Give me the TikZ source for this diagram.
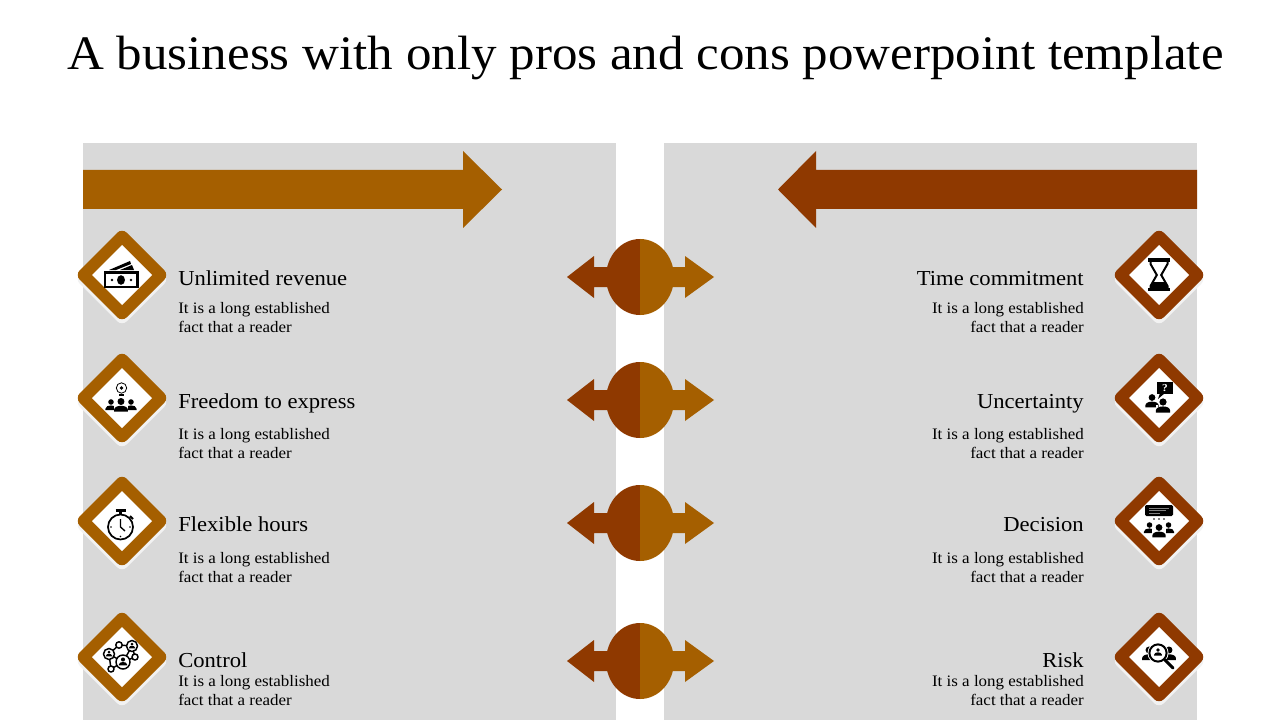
\documentclass[tikz,border=0pt]{standalone}
\usepackage{fontspec}
\setmainfont[FakeStretch=1.06]{Liberation Serif}
\definecolor{pro}{HTML}{A55F00}
\definecolor{con}{HTML}{8F3900}
\definecolor{panel}{HTML}{D9D9D9}
\definecolor{softedge}{HTML}{F2F2F2}
\newcommand{\psn}[3]{\begin{scope}[shift={(#1,#2)},scale=#3]
  \fill[black] (0,0) circle[radius=1.2];
  \fill[black] (-2.4,3.5) -- (-2.4,2.9) .. controls (-2.4,1.0) and (2.4,1.0) .. (2.4,2.9) -- (2.4,3.5) -- cycle;
\end{scope}}
\newcommand{\badge}[3]{%
  \fill[softedge,rounded corners=5] (#1-47,#2+4) -- (#1,#2-43) -- (#1+47,#2+4) -- (#1,#2+51) -- cycle;
  \fill[#3,rounded corners=5] (#1-47,#2) -- (#1,#2-47) -- (#1+47,#2) -- (#1,#2+47) -- cycle;
  \fill[white] (#1-30,#2) -- (#1,#2-30) -- (#1+30,#2) -- (#1,#2+30) -- cycle;}
\newcommand{\dblarrow}[1]{%
  \fill[con] (567,#1) -- (594,#1-21) -- (594,#1-10) -- (640,#1-10) -- (640,#1+10) -- (594,#1+10) -- (594,#1+21) -- cycle;
  \fill[pro] (714,#1) -- (685,#1-21) -- (685,#1-10) -- (640,#1-10) -- (640,#1+10) -- (685,#1+10) -- (685,#1+21) -- cycle;
  \fill[con] (640,#1+38) arc[start angle=90,end angle=270,x radius=34,y radius=38] -- cycle;
  \fill[pro] (640,#1+38) arc[start angle=90,end angle=-90,x radius=34,y radius=38] -- cycle;}
\tikzset{
  titletext/.style={anchor=base,inner sep=0pt,font=\fontsize{36.1}{40}\selectfont},
  headl/.style={anchor=base west,inner sep=0pt,font=\fontsize{16}{18}\selectfont},
  headr/.style={anchor=base east,inner sep=0pt,font=\fontsize{16}{18}\selectfont},
  subl/.style={anchor=base west,inner sep=0pt,font=\fontsize{12}{14}\selectfont},
  subr/.style={anchor=base east,inner sep=0pt,font=\fontsize{12}{14}\selectfont},
}
\begin{document}
\begin{tikzpicture}[x=0.75pt,y=-0.75pt]
\useasboundingbox (0,0) rectangle (1280,720);
\fill[white] (0,0) rectangle (1280,720);
\node[titletext] (title) at (645.5,69.5) {A business with only pros and cons powerpoint template};
\fill[panel] (83,143) rectangle (616,720);
\fill[panel] (664,143) rectangle (1197,720);
\fill[pro] (83,170) -- (463,170) -- (463,151) -- (502,189.5) -- (463,228) -- (463,209) -- (83,209) -- cycle;
\fill[con] (1197,170) -- (816,170) -- (816,151) -- (778,189.5) -- (816,228) -- (816,209) -- (1197,209) -- cycle;
\dblarrow{277}\dblarrow{400}\dblarrow{523}\dblarrow{661}
\badge{122}{275}{pro}\badge{122}{398}{pro}\badge{122}{521}{pro}\badge{122}{657}{pro}
\badge{1159}{275}{con}\badge{1159}{398}{con}\badge{1159}{521}{con}\badge{1159}{657}{con}
% money
\draw[black,line width=1.6pt] (105,272.5) rectangle (137.5,287);
\fill[black] (121,280) ellipse[x radius=4,y radius=4.8];
\fill[black] (112,280) circle[radius=1.3] (131,280) circle[radius=1.3];
\fill[black] (109,270) -- (130,261) -- (131,264) -- (116,270) -- cycle;
\fill[black] (120,270) -- (132,265) -- (134,270) -- cycle;
% freedom
\psn{111}{402}{2.3}\psn{131}{402}{2.3}
\fill[white] (114,412) rectangle (128,404);
\psn{121}{401.5}{2.9}
\draw[black,line width=0.6pt] (121.5,388) circle[radius=5.2];
\fill[black] (121.5,388) circle[radius=1.8];
\draw[black,line width=0.8pt] (119,395) -- (124,395);
% stopwatch
\draw[black,line width=1.3pt] (120.5,527) circle[radius=12.5];
\draw[black,line width=1.6pt] (115.5,510.5) -- (125.5,510.5);
\draw[black,line width=1.6pt] (120.5,510.5) -- (120.5,514.5);
\draw[black,line width=1.4pt] (130,516) -- (133,519);
\draw[black,line width=1pt] (120.5,519) -- (120.5,527) -- (125,531);
\fill[black] (111,527) circle[radius=0.8] (130,527) circle[radius=0.8] (120.5,536.5) circle[radius=0.8];
% control network
\draw[black,line width=1.1pt] (109,654) -- (119,645) -- (132,646) -- (135,657) -- (123,662) -- (111,669) -- (109,654) (132,646) -- (123,662) (109,654) -- (123,662);
\foreach \cx/\cy/\cr in {123/662/7,109/654/5.5,132/646/5.5,119/645/3.2,135/657/3,111/669/3}{
  \fill[white] (\cx,\cy) circle[radius=\cr];
  \draw[black,line width=1.1pt] (\cx,\cy) circle[radius=\cr];
}
\psn{123}{659.5}{1.7}\psn{109}{652}{1.25}\psn{132}{644}{1.25}
% hourglass
\fill[black] (1148,258) rectangle (1170,261.5);
\fill[black] (1148,288) rectangle (1170,291);
\draw[black,line width=1.5pt] (1150.5,261) -- (1150.5,264) -- (1156.8,275) -- (1150.5,286) -- (1150.5,289) (1167.5,261) -- (1167.5,264) -- (1161.2,275) -- (1167.5,286) -- (1167.5,289);
\fill[black] (1150.5,289) -- (1150.5,286) -- (1153,282) -- (1165,282) -- (1167.5,286) -- (1167.5,289) -- cycle;
% uncertainty
\fill[black] (1157,382) rectangle (1173,394);
\fill[black] (1160,393) -- (1158,399) -- (1165,393) -- cycle;
\node[text=white,inner sep=0pt,font=\bfseries\fontsize{8}{8}\selectfont] (qmark) at (1165,388) {?};
\psn{1152}{397.5}{2.8}
\fill[white] (1155.5,405) rectangle (1158,409);
\psn{1163}{402}{3}
% decision
\fill[black,rounded corners=1] (1145,505) rectangle (1173,516);
\draw[gray,line width=0.7pt] (1149,508) -- (1169,508) (1149,510.5) -- (1166,510.5) (1149,513) -- (1160,513);
\fill[black] (1154,519) circle[radius=0.9] (1159,519) circle[radius=0.9] (1164,519) circle[radius=0.9];
\psn{1149.5}{525}{2.3}\psn{1168.5}{525}{2.3}
\fill[white] (1152,535) rectangle (1166,527);
\psn{1159}{527.5}{2.8}
% risk
\psn{1149}{650}{2.9}\psn{1169}{650}{2.9}
\fill[white] (1158,653) circle[radius=10.5];
\draw[black,line width=1.5pt] (1158,653) circle[radius=8.6];
\psn{1158}{650}{1.6}
\draw[black,line width=2.2pt,line cap=round] (1165,660) -- (1173,668);
% texts
\node[headl] (h1) at (178,285) {Unlimited revenue};
\node[subl] (s1a) at (178,313) {It is a long established};
\node[subl] (s1b) at (178,332) {fact that a reader};
\node[headl] (h2) at (178,408) {Freedom to express};
\node[subl] (s2a) at (178,439) {It is a long established};
\node[subl] (s2b) at (178,458) {fact that a reader};
\node[headl] (h3) at (178,531) {Flexible hours};
\node[subl] (s3a) at (178,563) {It is a long established};
\node[subl] (s3b) at (178,582) {fact that a reader};
\node[headl] (h4) at (178,667) {Control};
\node[subl] (s4a) at (178,686) {It is a long established};
\node[subl] (s4b) at (178,705) {fact that a reader};
\node[headr] (h5) at (1084,285) {Time commitment};
\node[subr] (s5a) at (1084,313) {It is a long established};
\node[subr] (s5b) at (1084,332) {fact that a reader};
\node[headr] (h6) at (1084,408) {Uncertainty};
\node[subr] (s6a) at (1084,439) {It is a long established};
\node[subr] (s6b) at (1084,458) {fact that a reader};
\node[headr] (h7) at (1084,531) {Decision};
\node[subr] (s7a) at (1084,563) {It is a long established};
\node[subr] (s7b) at (1084,582) {fact that a reader};
\node[headr] (h8) at (1084,667) {Risk};
\node[subr] (s8a) at (1084,686) {It is a long established};
\node[subr] (s8b) at (1084,705) {fact that a reader};
\end{tikzpicture}
\end{document}
